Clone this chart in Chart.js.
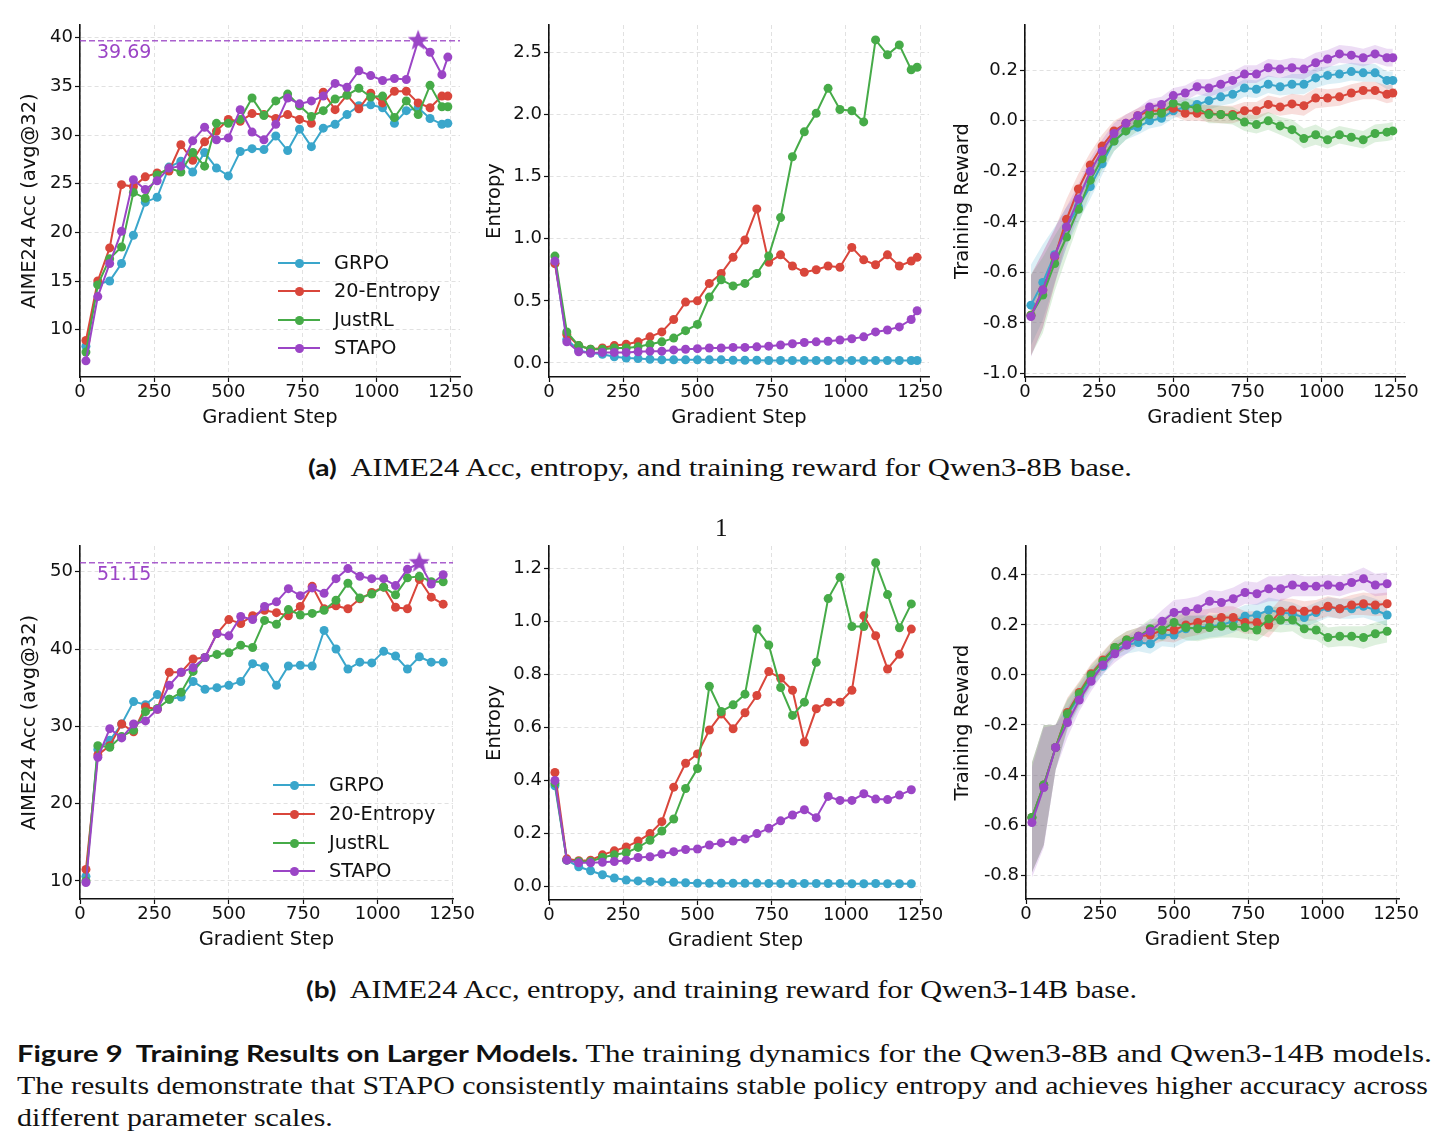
<!DOCTYPE html>
<html><head><meta charset="utf-8">
<script src="https://cdn.jsdelivr.net/npm/chart.js@4.4.1/dist/chart.umd.min.js"></script>
<style>
body{margin:0;width:1448px;height:1148px;background:#fff;position:relative;overflow:hidden;font-family:'DejaVu Sans',sans-serif;color:#111}
canvas.cv{position:absolute}
.lg{position:absolute;font:19.3px 'DejaVu Sans';color:#111;white-space:nowrap}
.lg .ln{position:absolute;height:2px}
.lg .dt{position:absolute;width:9px;height:9px;border-radius:50%}
.cap{position:absolute;white-space:nowrap;font:25px 'Liberation Serif',serif;line-height:30px;transform-origin:0 0;color:#111}
.bs{font-family:Lato,'DejaVu Sans',sans-serif;font-weight:bold;font-size:23px}
</style></head>
<body>
<script>
// ---------- data ----------
const methods = ['GRPO','20-Entropy','JustRL','STAPO'];
const colors  = ['#3AA6CB','#D9463B','#46AB48','#9B45C6'];

const steps8B  = [20,60,100,140,180,220,260,300,340,380,420,460,500,540,580,620,660,700,740,780,820,860,900,940,980,1020,1060,1100,1140,1180,1220,1240];
const steps14B = [20,60,100,140,180,220,260,300,340,380,420,460,500,540,580,620,660,700,740,780,820,860,900,940,980,1020,1060,1100,1140,1180,1220];

const xTicks = [0,250,500,750,1000,1250];
const accTicks8B  = [10,15,20,25,30,35,40];
const accTicks14B = [10,20,30,40,50];
const entTicks8B  = [0,0.5,1,1.5,2,2.5];
const entTicks14B = [0,0.2,0.4,0.6,0.8,1.0,1.2];
const rewTicks8B  = [-1.0,-0.8,-0.6,-0.4,-0.2,0.0,0.2];
const rewTicks14B = [-0.8,-0.6,-0.4,-0.2,0.0,0.2,0.4];

// Qwen3-8B AIME24 acc
const acc8B_grpo  = [8.3,14.7,15.0,16.8,19.7,23.1,23.6,26.7,27.3,26.2,28.2,26.6,25.8,28.3,28.6,28.5,29.9,28.4,30.6,28.8,30.7,31.1,32.1,33.0,33.1,32.8,31.2,32.5,32.8,31.7,31.1,31.2];
const acc8B_ent   = [8.9,15.0,18.4,24.9,24.7,25.7,26.1,26.3,29.0,27.4,29.3,30.4,31.6,31.4,32.2,32.1,31.7,32.1,31.6,31.2,34.4,32.6,34.1,32.7,34.3,33.3,34.5,34.5,33.3,32.8,34.0,34.0];
const acc8B_just  = [7.7,14.6,17.3,18.5,24.1,23.5,25.9,26.6,26.2,28.2,26.8,31.2,31.2,31.6,33.8,32.0,33.5,34.2,33.0,31.9,32.5,33.7,34.1,34.8,33.9,34.0,31.8,33.5,32.1,35.1,32.9,32.9];
const acc8B_stapo = [6.8,13.4,16.8,20.1,25.4,24.4,25.3,26.6,26.8,29.4,30.8,29.5,29.7,32.6,30.3,29.5,31.1,33.8,33.2,33.5,34.0,35.3,34.9,36.6,36.1,35.6,35.8,35.7,39.69,38.5,36.2,38.0];
const best8B = {step:1140, value:39.69, label:'39.69'};

// Qwen3-8B entropy
const ent8B_grpo  = [0.80,0.19,0.10,0.08,0.07,0.05,0.04,0.035,0.03,0.025,0.025,0.025,0.025,0.025,0.025,0.022,0.022,0.022,0.02,0.02,0.02,0.02,0.02,0.02,0.02,0.02,0.02,0.02,0.02,0.02,0.02,0.02];
const ent8B_ent   = [0.80,0.23,0.14,0.11,0.12,0.14,0.15,0.17,0.21,0.25,0.35,0.49,0.50,0.64,0.72,0.85,0.99,1.24,0.81,0.87,0.78,0.73,0.75,0.78,0.77,0.93,0.83,0.79,0.87,0.78,0.82,0.85];
const ent8B_just  = [0.86,0.25,0.14,0.11,0.11,0.12,0.12,0.13,0.15,0.17,0.20,0.26,0.31,0.53,0.67,0.62,0.64,0.72,0.86,1.17,1.66,1.86,2.01,2.21,2.04,2.03,1.94,2.60,2.48,2.56,2.36,2.38];
const ent8B_stapo = [0.82,0.17,0.09,0.08,0.085,0.085,0.085,0.09,0.095,0.095,0.105,0.11,0.115,0.12,0.12,0.125,0.125,0.13,0.135,0.145,0.155,0.165,0.17,0.175,0.185,0.195,0.21,0.25,0.265,0.29,0.35,0.42];

// Qwen3-8B training reward (+ band half-width)
const rew8B_grpo  = [-0.73,-0.64,-0.53,-0.42,-0.34,-0.26,-0.17,-0.08,-0.04,-0.025,0.00,0.01,0.04,0.055,0.065,0.08,0.095,0.105,0.13,0.125,0.145,0.135,0.145,0.145,0.17,0.18,0.185,0.195,0.19,0.19,0.16,0.16];
const rew8B_ent   = [-0.77,-0.67,-0.54,-0.39,-0.27,-0.175,-0.10,-0.04,-0.01,0.02,0.04,0.04,0.05,0.03,0.03,0.03,0.025,0.025,0.04,0.04,0.065,0.055,0.067,0.06,0.09,0.09,0.095,0.11,0.12,0.12,0.105,0.11];
const rew8B_just  = [-0.77,-0.69,-0.565,-0.46,-0.35,-0.235,-0.15,-0.08,-0.04,-0.01,0.025,0.03,0.07,0.06,0.05,0.025,0.025,0.02,-0.005,-0.015,0.00,-0.02,-0.035,-0.07,-0.055,-0.075,-0.055,-0.065,-0.075,-0.05,-0.045,-0.04];
const rew8B_stapo = [-0.775,-0.67,-0.535,-0.42,-0.31,-0.20,-0.12,-0.05,-0.01,0.02,0.055,0.065,0.10,0.11,0.135,0.13,0.145,0.16,0.185,0.185,0.21,0.205,0.21,0.205,0.23,0.245,0.265,0.26,0.25,0.265,0.25,0.25];
const band8B      = [0.16,0.15,0.11,0.08,0.06,0.05,0.045,0.04,0.035,0.03,0.03,0.03,0.03,0.03,0.03,0.035,0.035,0.035,0.035,0.035,0.035,0.035,0.04,0.04,0.04,0.035,0.035,0.035,0.035,0.035,0.035,0.035];

// Qwen3-14B AIME24 acc
const acc14B_grpo  = [10.6,27.0,28.2,30.3,33.2,32.8,34.1,33.5,33.8,35.8,34.8,35.0,35.3,35.8,38.1,37.7,35.3,37.8,37.9,37.8,42.4,40.0,37.4,38.3,38.2,39.7,39.1,37.4,39.0,38.3,38.3];
const acc14B_ent   = [11.5,26.3,27.5,30.3,29.3,32.5,32.2,37.0,37.0,38.7,38.9,42.0,43.8,43.3,44.3,45.0,44.7,44.3,45.5,48.1,45.2,45.6,45.2,46.5,47.3,48.0,45.4,45.2,49.0,46.7,45.8];
const acc14B_just  = [10.0,27.5,27.3,28.7,29.5,31.9,32.3,33.5,34.4,37.1,38.9,39.3,39.5,40.5,40.2,43.7,43.2,45.1,44.4,44.6,45.0,46.3,48.5,46.6,47.1,48.0,47.0,49.2,49.4,48.7,48.7];
const acc14B_stapo = [9.8,26.0,29.7,28.5,30.3,30.7,32.2,35.3,37.0,37.6,38.9,42.0,41.7,44.2,43.8,45.5,46.1,47.8,46.9,47.9,47.2,49.1,50.4,49.4,49.1,49.1,48.2,50.3,51.15,48.4,49.6];
const best14B = {step:1140, value:51.15, label:'51.15'};

// Qwen3-14B entropy
const ent14B_grpo  = [0.38,0.10,0.075,0.06,0.045,0.033,0.025,0.022,0.02,0.018,0.017,0.015,0.013,0.013,0.013,0.013,0.013,0.013,0.012,0.012,0.012,0.012,0.012,0.012,0.012,0.011,0.011,0.012,0.011,0.011,0.011];
const ent14B_ent   = [0.43,0.105,0.098,0.10,0.12,0.135,0.15,0.172,0.20,0.245,0.375,0.465,0.50,0.59,0.65,0.595,0.655,0.72,0.81,0.785,0.74,0.545,0.67,0.695,0.695,0.74,1.02,0.945,0.82,0.875,0.97];
const ent14B_just  = [0.39,0.10,0.095,0.095,0.11,0.12,0.128,0.148,0.175,0.21,0.255,0.37,0.445,0.755,0.66,0.685,0.725,0.97,0.91,0.75,0.645,0.695,0.845,1.085,1.165,0.98,0.98,1.22,1.10,0.975,1.065];
const ent14B_stapo = [0.40,0.10,0.09,0.09,0.092,0.095,0.10,0.11,0.113,0.123,0.132,0.14,0.142,0.157,0.165,0.172,0.18,0.20,0.22,0.248,0.27,0.29,0.26,0.34,0.325,0.325,0.35,0.33,0.328,0.345,0.365];

// Qwen3-14B training reward (+ band half-width)
const rew14B_grpo  = [-0.57,-0.44,-0.29,-0.16,-0.085,-0.01,0.035,0.10,0.12,0.13,0.125,0.16,0.16,0.185,0.19,0.195,0.20,0.215,0.235,0.24,0.26,0.25,0.245,0.23,0.25,0.27,0.265,0.265,0.275,0.26,0.24];
const rew14B_ent   = [-0.57,-0.44,-0.29,-0.15,-0.07,0.005,0.06,0.11,0.14,0.155,0.16,0.18,0.18,0.20,0.21,0.22,0.23,0.23,0.21,0.21,0.20,0.255,0.26,0.255,0.26,0.275,0.265,0.28,0.285,0.28,0.285];
const rew14B_just  = [-0.57,-0.44,-0.29,-0.155,-0.075,0.00,0.055,0.11,0.14,0.155,0.185,0.18,0.21,0.19,0.185,0.19,0.195,0.195,0.19,0.18,0.225,0.22,0.22,0.185,0.18,0.15,0.155,0.155,0.15,0.165,0.175];
const rew14B_stapo = [-0.59,-0.45,-0.29,-0.19,-0.10,-0.025,0.04,0.085,0.12,0.155,0.175,0.215,0.25,0.255,0.265,0.295,0.29,0.305,0.33,0.325,0.345,0.345,0.36,0.355,0.355,0.36,0.355,0.37,0.385,0.36,0.365];
const band14B      = [0.22,0.24,0.09,0.06,0.045,0.04,0.035,0.035,0.035,0.035,0.04,0.045,0.05,0.05,0.05,0.045,0.045,0.045,0.045,0.045,0.05,0.05,0.045,0.04,0.04,0.04,0.04,0.04,0.045,0.045,0.045];

// ---------- drawing ----------
const PADT = 16, PADR = 25, XH = 53;
const TXT = '#111';
const TICK_SIZE = 18, TITLE_SIZE = 19.5;

function hexA(h, a){
  const n = parseInt(h.slice(1),16);
  return `rgba(${(n>>16)&255},${(n>>8)&255},${n&255},${a})`;
}
function starCanvas(color, R){
  const c = document.createElement('canvas');
  c.width = c.height = 2*R+2;
  const g = c.getContext('2d');
  g.fillStyle = color;
  g.beginPath();
  for(let i=0;i<10;i++){
    const r = i%2 ? R*0.42 : R;
    const a = -Math.PI/2 + i*Math.PI/5;
    g.lineTo(R+1+r*Math.cos(a), R+1+r*Math.sin(a));
  }
  g.closePath(); g.fill();
  return c;
}

const bestLinePlugin = {
  id:'bestLine',
  beforeDatasetsDraw(chart){
    const b = chart.config.options.plugins.bestLine;
    if(!b || !b.best) return;
    const ctx = chart.ctx, ca = chart.chartArea;
    const y = chart.scales.y.getPixelForValue(b.best.value);
    ctx.save();
    ctx.strokeStyle = hexA(colors[3],0.85);
    ctx.lineWidth = 1.5;
    ctx.setLineDash([6,3]);
    ctx.beginPath(); ctx.moveTo(ca.left, y); ctx.lineTo(ca.right, y); ctx.stroke();
    ctx.setLineDash([]);
    ctx.fillStyle = colors[3];
    ctx.font = "19px 'DejaVu Sans'";
    ctx.textBaseline = 'middle';
    ctx.textAlign = 'left';
    ctx.fillText(b.best.label, ca.left + 17, y + 12);
    ctx.restore();
  }
};

function build(spec){
  const left = Math.round(spec.titleX - TITLE_SIZE*0.6);
  const top = spec.plot.t - PADT;
  const W = spec.plot.r + PADR - left;
  const H = spec.plot.b + XH - top;
  const cv = document.createElement('canvas');
  cv.className = 'cv';
  cv.width = W; cv.height = H;
  cv.style.left = left+'px'; cv.style.top = top+'px';
  cv.style.width = W+'px'; cv.style.height = H+'px';
  document.body.appendChild(cv);
  const yW = spec.plot.l - left;

  const datasets = [];
  spec.series.forEach((vals,i)=>{
    datasets.push({
      label: methods[i],
      data: spec.steps.map((s,k)=>({x:s, y:vals[k]})),
      borderColor: colors[i], backgroundColor: colors[i],
      pointBackgroundColor: colors[i], pointBorderColor: colors[i],
      pointRadius: 4.5, pointHoverRadius: 4.5, pointBorderWidth: 0,
      borderWidth: 2, tension: 0, fill: false, clip: false, order: 10 - i
    });
    if(spec.band){
      datasets.push({
        label: methods[i]+' band hi',
        data: spec.steps.map((s,k)=>({x:s, y:vals[k]+spec.band[k]})),
        borderWidth: 0, pointRadius: 0, fill: '+1',
        backgroundColor: hexA(colors[i],0.18), clip:false, order: 30 - i, tension: 0
      });
      datasets.push({
        label: methods[i]+' band lo',
        data: spec.steps.map((s,k)=>({x:s, y:vals[k]-spec.band[k]})),
        borderWidth: 0, pointRadius: 0, fill: false,
        backgroundColor: 'rgba(0,0,0,0)', clip:false, order: 30 - i, tension: 0
      });
    }
  });
  if(spec.best){
    datasets.push({
      label:'best',
      data:[{x:spec.best.step, y:spec.best.value}],
      pointStyle: starCanvas(colors[3], 11),
      pointRadius: 11, showLine:false, clip:false, order: 0
    });
  }

  const fontT = {family:'DejaVu Sans', size:TICK_SIZE};
  const fontH = {family:'DejaVu Sans', size:TITLE_SIZE};
  const gridCommon = {color:'#dedede', lineWidth:0.9, drawTicks:true, tickColor:'#111', tickLength:5, tickWidth:1.2};
  const borderCommon = {display:true, color:'#111', width:1.6, dash:[4,3]};

  new Chart(cv.getContext('2d'), {
    type:'line',
    data:{datasets},
    options:{
      responsive:false, animation:false, devicePixelRatio:1, events:[],
      layout:{padding:{top:PADT, right:PADR, bottom:0, left:0}},
      plugins:{legend:{display:false}, tooltip:{enabled:false}, bestLine:{best:spec.best}},
      scales:{
        x:{
          type:'linear', min:0, max:spec.xmax,
          afterBuildTicks:s=>{ s.ticks = xTicks.map(v=>({value:v})); },
          afterFit:s=>{ s.height = XH; },
          ticks:{font:fontT, color:TXT, padding:0, maxRotation:0, autoSkip:false, callback:v=>String(v)},
          grid:gridCommon, border:borderCommon,
          title:{display:true, text:'Gradient Step', font:fontH, color:TXT, padding:0}
        },
        y:{
          type:'linear', min:spec.ymin, max:spec.ymax,
          afterBuildTicks:s=>{ s.ticks = spec.yTicks.map(v=>({value:v})); },
          afterFit:s=>{ s.width = yW; },
          ticks:{font:fontT, color:TXT, padding:2, autoSkip:false, callback:v=>spec.fmt(v)},
          grid:gridCommon, border:borderCommon,
          title:{display:true, text:spec.yTitle, font:fontH, color:TXT, padding:0}
        }
      }
    },
    plugins:[bestLinePlugin]
  });
}

const fmtInt = v => String(v);
const fmt1 = v => v.toFixed(1);

build({titleX:30, plot:{l:80,r:460,t:25,b:377}, xmax:1281, ymin:5.14, ymax:41.3, yTicks:accTicks8B, fmt:fmtInt,
  yTitle:'AIME24 Acc (avg@32)', steps:steps8B, series:[acc8B_grpo,acc8B_ent,acc8B_just,acc8B_stapo], best:best8B});
build({titleX:495, plot:{l:549,r:929,t:25,b:377}, xmax:1280, ymin:-0.113, ymax:2.72, yTicks:entTicks8B, fmt:fmt1,
  yTitle:'Entropy', steps:steps8B, series:[ent8B_grpo,ent8B_ent,ent8B_just,ent8B_stapo]});
build({titleX:963, plot:{l:1025,r:1405,t:25,b:377}, xmax:1281, ymin:-1.0145, ymax:0.3795, yTicks:rewTicks8B, fmt:fmt1,
  yTitle:'Training Reward', steps:steps8B, series:[rew8B_grpo,rew8B_ent,rew8B_just,rew8B_stapo], band:band8B});

build({titleX:30, plot:{l:80,r:453,t:546,b:899}, xmax:1253, ymin:7.67, ymax:53.32, yTicks:accTicks14B, fmt:fmtInt,
  yTitle:'AIME24 Acc (avg@32)', steps:steps14B, series:[acc14B_grpo,acc14B_ent,acc14B_just,acc14B_stapo], best:best14B});
build({titleX:495, plot:{l:549,r:922,t:546,b:900}, xmax:1256, ymin:-0.05, ymax:1.283, yTicks:entTicks14B, fmt:fmt1,
  yTitle:'Entropy', steps:steps14B, series:[ent14B_grpo,ent14B_ent,ent14B_just,ent14B_stapo]});
build({titleX:963, plot:{l:1026,r:1399,t:546,b:899}, xmax:1260, ymin:-0.896, ymax:0.516, yTicks:rewTicks14B, fmt:fmt1,
  yTitle:'Training Reward', steps:steps14B, series:[rew14B_grpo,rew14B_ent,rew14B_just,rew14B_stapo], band:band14B});

// legends
function legend(x0, rows){
  rows.forEach((yc,i)=>{
    const d = document.createElement('div');
    d.className='lg';
    d.style.left = x0+'px'; d.style.top = (yc-12)+'px'; d.style.height='24px'; d.style.width='200px';
    d.innerHTML = `<div class="ln" style="left:0;top:11px;width:42px;background:${colors[i]}"></div>`+
      `<div class="dt" style="left:16.5px;top:7.5px;background:${colors[i]}"></div>`+
      `<span style="position:absolute;left:56px;top:0;line-height:24px">${methods[i]}</span>`;
    document.body.appendChild(d);
  });
}
legend(278,[263,291,320,348]);
legend(273,[785,814,843,871]);
</script>

<div class="cap" id="capA" style="left:308px;top:452px"><span class="bs">(a)</span>&nbsp; AIME24 Acc, entropy, and training reward for Qwen3-8B base.</div>
<div class="cap" id="pg" style="left:715px;top:513px">1</div>
<div class="cap" id="capB" style="left:306px;top:974px"><span class="bs">(b)</span>&nbsp; AIME24 Acc, entropy, and training reward for Qwen3-14B base.</div>
<div class="cap" id="f1" style="left:17px;top:1038px"><span class="bs">Figure 9&nbsp; Training Results on Larger Models.</span> The training dynamics for the Qwen3-8B and Qwen3-14B models.</div>
<div class="cap" id="f2" style="left:17px;top:1071px">The results demonstrate that STAPO consistently maintains stable policy entropy and achieves higher accuracy across</div>
<div class="cap" id="f3" style="left:17px;top:1103px">different parameter scales.</div>
<script>
function fit(id, w){
  const el = document.getElementById(id);
  const s = w / el.getBoundingClientRect().width;
  el.style.transform = `scaleX(${s})`;
  return s;
}
fit('capA', 824);
fit('capB', 831);
fit('f1', 1415);
const s2 = fit('f2', 1411);
document.getElementById('f3').style.transform = `scaleX(${s2})`;
</script>
</body></html>
